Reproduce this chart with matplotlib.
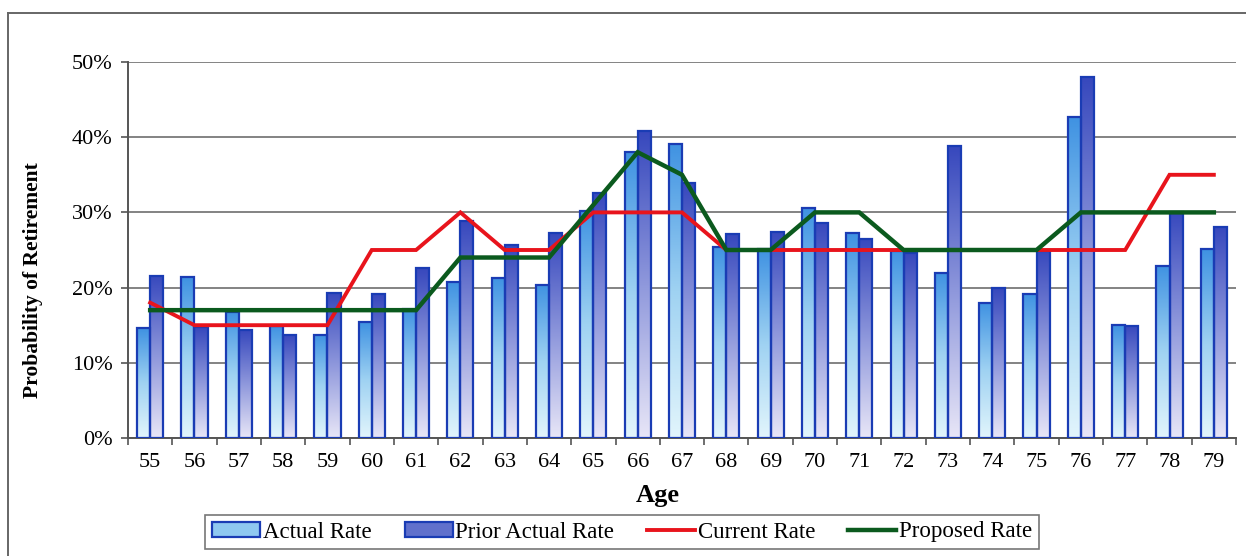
import numpy as np
import matplotlib
matplotlib.use("Agg")
import matplotlib.pyplot as plt
from matplotlib.patches import Patch
from matplotlib.lines import Line2D
from matplotlib.colors import LinearSegmentedColormap
from matplotlib.ticker import PercentFormatter, FixedLocator

ages = list(range(55, 80))
actual_rate = [14.6, 21.4, 16.7, 14.9, 13.7, 15.4, 17.2, 20.7, 21.3, 20.4, 30.2, 38.0, 39.1,
               25.4, 25.1, 30.6, 27.2, 24.9, 22.0, 18.0, 19.2, 42.7, 15.0, 22.9, 25.1]
prior_actual_rate = [21.6, 14.7, 14.3, 13.7, 19.3, 19.1, 22.6, 28.8, 25.6, 27.2, 32.6, 40.8, 33.9,
                     27.1, 27.4, 28.6, 26.5, 24.6, 38.8, 19.9, 24.9, 48.0, 14.9, 30.1, 28.1]
current_rate = [18, 15, 15, 15, 15, 25, 25, 30, 25, 25, 30, 30, 30,
                25, 25, 25, 25, 25, 25, 25, 25, 25, 25, 35, 35]
proposed_rate = [17, 17, 17, 17, 17, 17, 17, 24, 24, 24, 31, 38, 35,
                 25, 25, 30, 30, 25, 25, 25, 25, 30, 30, 30, 30]

plt.rcParams['font.family'] = ['Liberation Serif', 'DejaVu Serif']

W, H = 1246, 556
fig = plt.figure(figsize=(W / 100, H / 100), dpi=100)
ax = fig.add_axes([128 / W, 1 - 438 / H, (1236 - 128) / W, (438 - 62) / H])

x = np.arange(len(ages))
bw = 0.295
edge = '#1a3cb4'

cmap_actual = LinearSegmentedColormap.from_list('actual', ['#e2f5fc', '#9fd2f2', '#3f92e2'])
cmap_prior = LinearSegmentedColormap.from_list('prior', ['#e8e6f7', '#8f98dc', '#3748bd'])
grad = np.linspace(0, 1, 256).reshape(-1, 1)

bars_a = ax.bar(x - bw / 2, np.array(actual_rate) / 100, bw, facecolor='none',
                edgecolor=edge, linewidth=1.6, zorder=3)
bars_p = ax.bar(x + bw / 2, np.array(prior_actual_rate) / 100, bw, facecolor='none',
                edgecolor=edge, linewidth=1.6, zorder=3)

for bars, cmap in ((bars_a, cmap_actual), (bars_p, cmap_prior)):
    for b in bars:
        x0, w, h = b.get_x(), b.get_width(), b.get_height()
        ax.imshow(grad, cmap=cmap, origin='lower', aspect='auto',
                  extent=[x0, x0 + w, 0, h], zorder=2, interpolation='bilinear')

ax.plot(x, np.array(current_rate) / 100, color='#e8141c', lw=2.8, zorder=4,
        solid_joinstyle='miter')
ax.plot(x, np.array(proposed_rate) / 100, color='#0b5a1e', lw=3.2, zorder=5,
        solid_joinstyle='miter')

ax.set_xlim(-0.5, len(ages) - 0.5)
ax.set_ylim(0, 0.5)
ax.set_aspect('auto')

ax.set_yticks(np.arange(0, 0.51, 0.1))
ax.yaxis.set_major_formatter(PercentFormatter(1.0, decimals=0))
ax.xaxis.set_major_locator(FixedLocator(x))
ax.set_xticklabels([str(a) for a in ages])
ax.xaxis.set_minor_locator(FixedLocator(np.arange(-0.5, len(ages), 1.0)))
ax.tick_params(axis='x', which='major', length=0, labelsize=16, pad=11)
ax.tick_params(axis='x', which='minor', length=5, width=1.2, color='#555555', direction='out')
ax.tick_params(axis='y', which='major', length=5, width=1.2, color='#555555',
               labelsize=16, pad=6)

ax.grid(axis='y', color='#7a7a7a', lw=1.3, zorder=0)
ax.set_axisbelow(True)
for s in ('top', 'right'):
    ax.spines[s].set_visible(False)
for s in ('left', 'bottom'):
    ax.spines[s].set_color('#555555')
    ax.spines[s].set_linewidth(1.4)

ax.set_xlabel('Age', fontsize=19, fontweight='bold')
ax.xaxis.set_label_coords((658 - 128) / 1108, -(484 - 438) / 376)
ax.set_ylabel('Probability of Retirement', fontsize=15.5, fontweight='bold')
ax.yaxis.set_label_coords(-(128 - 43) / 1108, (438 - 280) / 376)

handles = [
    Patch(facecolor='#8fc8f0', edgecolor=edge, lw=1.6, label='Actual Rate'),
    Patch(facecolor='#6070cc', edgecolor=edge, lw=1.6, label='Prior Actual Rate'),
    Line2D([], [], color='#e8141c', lw=2.8, label='Current Rate'),
    Line2D([], [], color='#0b5a1e', lw=3.2, label='Proposed Rate'),
]
leg = fig.legend(handles=handles, loc='center', bbox_to_anchor=(622 / W, 1 - 532 / H),
                 ncol=4, fontsize=16.5, frameon=True, fancybox=False, shadow=False,
                 handlelength=2.1, handleheight=0.6, handletextpad=0.1, columnspacing=1.45,
                 borderpad=0.3, edgecolor='#555555')
leg.get_frame().set_linewidth(1.2)

# outer chart border
fig.add_artist(Line2D([8 / W, 8 / W], [0, 1 - 13 / H], transform=fig.transFigure,
                      color='#666666', lw=1.4))
fig.add_artist(Line2D([8 / W, 1], [1 - 13 / H, 1 - 13 / H], transform=fig.transFigure,
                      color='#666666', lw=1.4))

fig.savefig('out.png', dpi=100)
